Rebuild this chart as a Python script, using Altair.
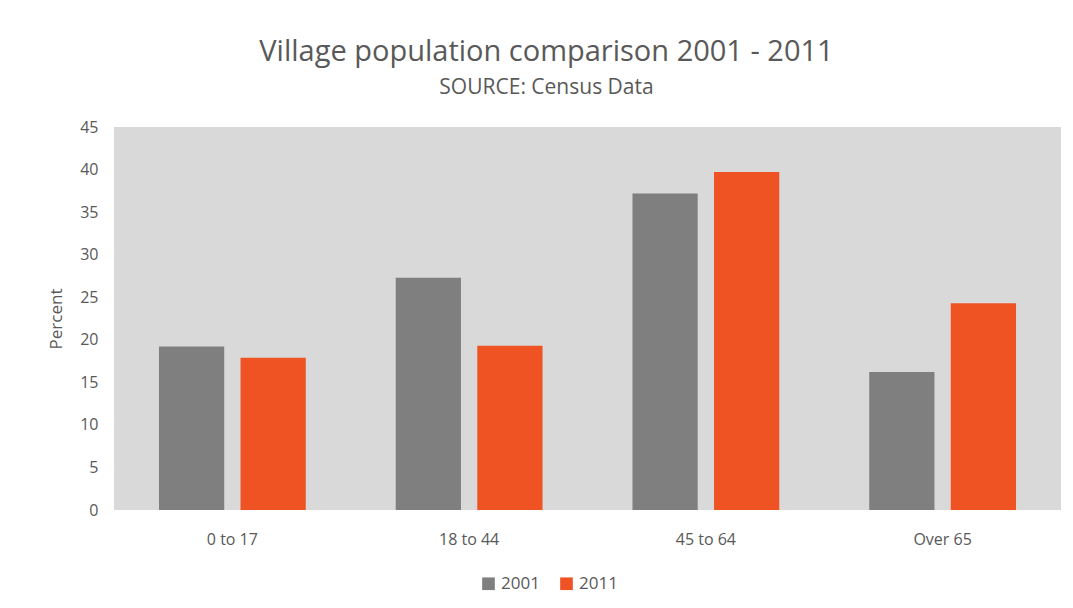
import altair as alt
import pandas as pd

categories = ["0 to 17", "18 to 44", "45 to 64", "Over 65"]
years = ["2001", "2011"]
values_2001 = [19.2, 27.3, 37.2, 16.2]
values_2011 = [17.9, 19.3, 39.7, 24.3]

rows = []
for c, a, b in zip(categories, values_2001, values_2011):
    rows.append({"age": c, "year": "2001", "pct": a})
    rows.append({"age": c, "year": "2011", "pct": b})
df = pd.DataFrame(rows)

FONT = "Open Sans"
TXT = "#595959"

chart = alt.Chart(df).mark_bar().encode(
    x=alt.X("age:N", sort=categories, title=None,
            scale=alt.Scale(paddingInner=0.38, paddingOuter=0.19),
            axis=alt.Axis(labelAngle=0, labelFontSize=16, labelColor=TXT, labelFont=FONT,
                          domain=False, ticks=False, labelPadding=21)),
    xOffset=alt.XOffset("year:N", scale=alt.Scale(paddingInner=0.2, paddingOuter=0)),
    y=alt.Y("pct:Q", title="Percent",
            scale=alt.Scale(domain=[0, 45]),
            axis=alt.Axis(values=list(range(0, 46, 5)), labelFontSize=16, labelColor=TXT,
                          labelFont=FONT, domain=False, ticks=False, grid=False,
                          labelPadding=16, titleFontSize=17, titleFontWeight="normal",
                          titleColor=TXT, titleFont=FONT, titlePadding=14)),
    color=alt.Color("year:N", scale=alt.Scale(domain=years, range=["#7f7f7f", "#ef5223"]),
                    legend=alt.Legend(title=None, orient="none", direction="horizontal",
                                      legendX=366, legendY=448, symbolType="square",
                                      symbolSize=160, labelFontSize=17, labelColor=TXT,
                                      labelFont=FONT, columnPadding=18, symbolStrokeWidth=0)),
).properties(
    width=947,
    height=383,
    title=alt.TitleParams(
        text="Village population comparison 2001 - 2011",
        subtitle="SOURCE: Census Data",
        fontSize=29, font=FONT, fontWeight="normal", color=TXT,
        subtitleFontSize=21, subtitleFont=FONT, subtitleColor=TXT,
        anchor="middle", dx=-41, offset=21, subtitlePadding=10,
    ),
    autosize=alt.AutoSizeParams(type="none"),
    padding={"left": 106, "top": 119, "right": 4, "bottom": 90},
    background="white",
).configure_view(
    fill="#d9d9d9", stroke=None
)

chart.save("out.html", embed_options={"renderer": "svg", "actions": False})
